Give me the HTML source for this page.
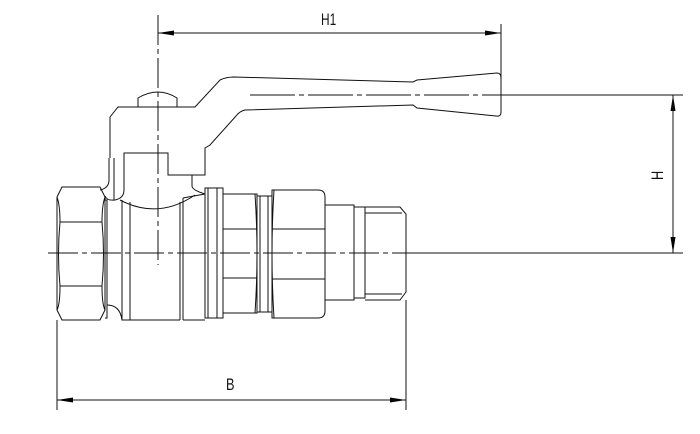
<!DOCTYPE html>
<html><head><style>body{margin:0;background:#fff}svg{display:block}</style></head><body>
<svg width="700" height="434" viewBox="0 0 700 434" xmlns="http://www.w3.org/2000/svg" font-family="Liberation Sans, sans-serif">
<defs>
<marker id="a" markerWidth="16" markerHeight="6" refX="16" refY="3" orient="auto" markerUnits="userSpaceOnUse"><path d="M0,0.5 L16,3 L0,5.5z" fill="#000"/></marker>
</defs>
<g fill="none" stroke="#111" stroke-width="1">
<line x1="48" y1="253" x2="406" y2="253" stroke-dasharray="30,4,5,4"/>
<line x1="406" y1="253" x2="683" y2="253"/>
<line x1="158" y1="15" x2="158" y2="265" stroke-dasharray="30,4,5,4"/>
<line x1="250" y1="95" x2="500" y2="95" stroke-dasharray="45,4,5,4"/>
<line x1="500" y1="95" x2="683" y2="95"/>
<line x1="158" y1="24" x2="158" y2="40"/>
<line x1="501" y1="24" x2="501" y2="78"/>
<line x1="158" y1="33" x2="501" y2="33" marker-end="url(#a)"/>
<line x1="501" y1="33" x2="158" y2="33" marker-end="url(#a)"/>
<line x1="673" y1="253" x2="673" y2="95" marker-end="url(#a)"/>
<line x1="673" y1="95" x2="673" y2="253" marker-end="url(#a)"/>
<line x1="57" y1="320" x2="57" y2="410"/>
<line x1="406" y1="300" x2="406" y2="410"/>
<line x1="57" y1="400" x2="406" y2="400" marker-end="url(#a)"/>
<line x1="406" y1="400" x2="57" y2="400" marker-end="url(#a)"/>
<path d="M138,107 L138,98 Q158,86 177,98 L177,107"/>
<path d="M110,158 L110,117 L118,107 L195,107 L220,80 Q226,77 234,77 L413,82 L417,80 L497,73 Q501,73 501,78 L501,112 Q501,117 496,116 L417,108 L413,105 L245,110 Q240,111 236,116 L210,145 L205,148 L205,175 L168,175 L168,153 L124,153 L124,160"/>
<path d="M109,158 L109,180 Q109,188 100,190"/>
<path d="M124,158 L124,190 Q124,198 115,200 Q107,201 105,196"/>
<path d="M192,175 L192,186 Q192,190 205,194"/>
<path d="M120,200 Q158,220 195,195"/>
<line x1="114" y1="158" x2="114" y2="200"/>
<path d="M62,187 L100,187 L105,197 L105,310 L100,320 L62,320 L57,310 L57,197 Z"/>
<path d="M57,197 Q60,205 60,222 M105,197 Q102,205 102,222 M60,222 Q57,254 60,286 M102,222 Q105,254 102,286 M60,286 Q60,304 57,310 M102,286 Q102,304 105,310"/>
<line x1="60" y1="222" x2="102" y2="222"/><line x1="60" y1="286" x2="102" y2="286"/>
<path d="M105,200 L107,200 L107,318 L105,318"/>
<path d="M107,305 Q120,305 122,320 L180,320"/>
<line x1="122" y1="200" x2="122" y2="320"/>
<line x1="130" y1="202" x2="130" y2="320"/>
<line x1="180" y1="202" x2="180" y2="320"/>
<line x1="183" y1="198" x2="183" y2="320"/>
<line x1="183" y1="198" x2="205" y2="194"/>
<line x1="183" y1="320" x2="205" y2="320"/>
<rect x="205" y="188" width="18" height="130"/>
<line x1="208" y1="188" x2="208" y2="318"/><line x1="217" y1="188" x2="217" y2="318"/>
<rect x="223" y="194" width="34" height="119"/>
<line x1="223" y1="229" x2="257" y2="229"/><line x1="223" y1="278" x2="257" y2="278"/>
<path d="M255,194 Q259,254 255,313"/>
<rect x="257" y="196" width="15" height="116"/>
<line x1="260" y1="196" x2="260" y2="312"/><line x1="268" y1="196" x2="268" y2="312"/>
<path d="M272,190 L318,190 Q325,190 325,197 L325,311 Q325,318 318,318 L272,318 Z"/>
<path d="M274,190 Q270,254 274,318"/>
<line x1="272" y1="229" x2="325" y2="229"/><line x1="272" y1="279" x2="325" y2="279"/>
<rect x="325" y="205" width="29" height="95"/>
<rect x="354" y="207" width="11" height="91"/>
<path d="M365,207 L400,207 L406,214 L406,292 L400,300 L365,300"/>
<line x1="365" y1="213" x2="402" y2="213"/><line x1="365" y1="294" x2="402" y2="294"/>
</g>
<g font-size="17" fill="#111">
<text transform="translate(321,25) scale(0.7,1)">H1</text>
<text transform="translate(226,390) scale(0.75,1)">B</text>
<text transform="translate(663,180) rotate(-90) scale(0.75,1)">H</text>
</g>
</svg>
</body></html>
